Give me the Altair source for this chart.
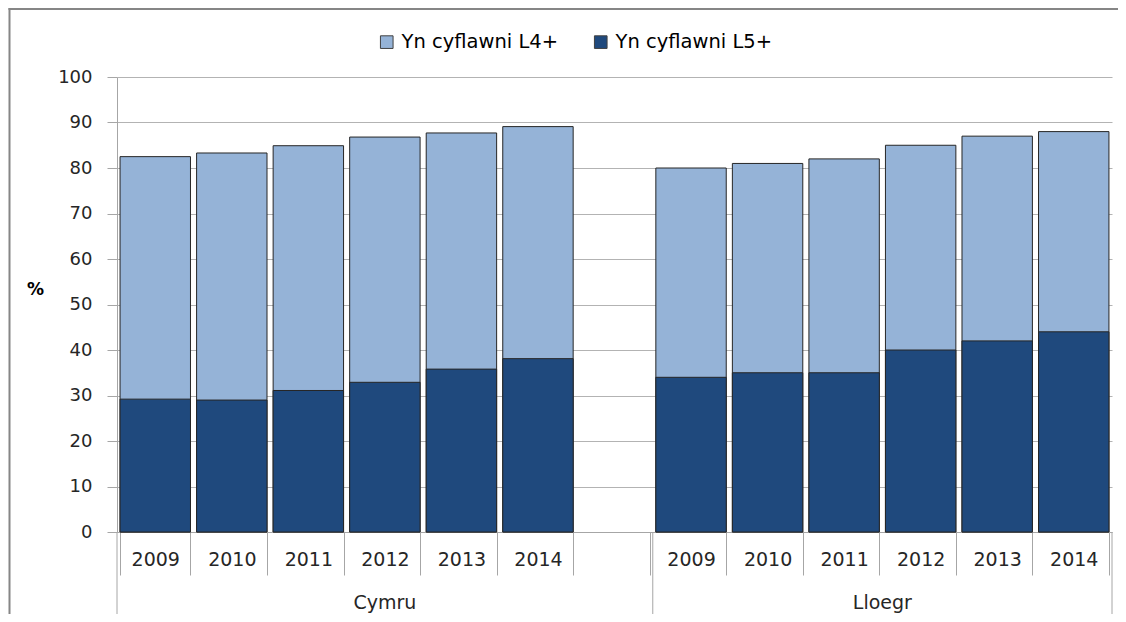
import altair as alt
import pandas as pd

years = ["2009", "2010", "2011", "2012", "2013", "2014"]
countries = ["Cymru", "Lloegr"]
series = ["Yn cyflawni L4+", "Yn cyflawni L5+"]
cymru_l4 = [82.5, 83.3, 84.9, 86.8, 87.7, 89.1]
cymru_l5 = [29.2, 29.0, 31.1, 32.9, 35.8, 38.1]
lloegr_l4 = [80.0, 81.0, 82.0, 85.0, 87.0, 88.0]
lloegr_l5 = [34.0, 35.0, 35.0, 40.0, 42.0, 44.0]
y_ticks = [0, 10, 20, 30, 40, 50, 60, 70, 80, 90, 100]

rows = []
for c, l4, l5 in [(countries[0], cymru_l4, cymru_l5), (countries[1], lloegr_l4, lloegr_l5)]:
    for yr, a, b in zip(years, l4, l5):
        rows.append({"cat": f"{c}|{yr}", "series": series[0], "value": a, "z": 0})
        rows.append({"cat": f"{c}|{yr}", "series": series[1], "value": b, "z": 1})
df = pd.DataFrame(rows)

domain = [f"{countries[0]}|{y}" for y in years] + [f"{countries[0]}| "] + [f"{countries[1]}|{y}" for y in years]

PI = 0.08
W, H = 995, 455
STEP = W / len(domain)
HALFGAP = STEP * PI / 2
FONT = "DejaVu Sans"
GRAY = "#a6a6a6"

xscale = alt.Scale(domain=domain, paddingInner=PI, paddingOuter=PI / 2)

bars = alt.Chart(df).mark_bar(stroke="#262626", strokeWidth=1).encode(
    x=alt.X("cat:N", scale=xscale, title=None,
            axis=alt.Axis(labelExpr="split(datum.value, '|')[1]", labelAngle=0,
                          tickBand="extent", tickSize=43, tickColor=GRAY, tickWidth=1,
                          domainColor=GRAY, domainWidth=1, labelFont=FONT, labelFontSize=19,
                          labelColor="#262626", labelPadding=-25, labelBaseline="top",
                          grid=False)),
    y=alt.Y("value:Q", stack=None, title="%",
            scale=alt.Scale(domain=[0, 100], nice=False),
            axis=alt.Axis(values=y_ticks, grid=True, gridColor="#b3b3b3", gridWidth=1,
                          domainColor=GRAY, tickColor=GRAY, tickSize=10,
                          labelFont=FONT, labelFontSize=18, labelColor="#262626",
                          labelPadding=15, titleAngle=0, titleFont=FONT, titleFontSize=17,
                          titleFontWeight="bold", titleColor="#000000",
                          titleX=-82, titleY=212, titleAlign="center", titleBaseline="middle")),
    color=alt.Color("series:N", title=None,
                    scale=alt.Scale(domain=series, range=["#95B3D7", "#1F497D"]),
                    legend=alt.Legend(orient="none", direction="horizontal",
                                      legendX=260, legendY=-45, symbolType="square",
                                      symbolSize=160, symbolStrokeColor="#404040",
                                      symbolStrokeWidth=1, labelFont=FONT,
                                      labelFontSize=19.5, labelColor="#000000",
                                      columnPadding=33, padding=0, labelOffset=5)),
    order=alt.Order("z:Q"),
)

grp1 = pd.DataFrame({"cat": [domain[3]], "label": [countries[0]]})
grp2 = pd.DataFrame({"cat": [domain[10]], "label": [countries[1]]})
txt1 = alt.Chart(grp1).mark_text(font=FONT, fontSize=19, color="#262626", baseline="middle").encode(
    x=alt.X("cat:N", scale=xscale), y=alt.value(H + 71), text="label:N")
txt2 = alt.Chart(grp2).mark_text(font=FONT, fontSize=19, color="#262626", baseline="middle",
                                 xOffset=-HALFGAP).encode(
    x=alt.X("cat:N", scale=xscale, bandPosition=0), y=alt.value(H + 71), text="label:N")

rl = pd.DataFrame({"cat": [domain[0], domain[7]]})
rr = pd.DataFrame({"cat": [domain[12]]})
rules1 = alt.Chart(rl).mark_rule(color=GRAY, strokeWidth=1, xOffset=-HALFGAP).encode(
    x=alt.X("cat:N", scale=xscale, bandPosition=0), y=alt.value(H), y2=alt.value(H + 85))
rules2 = alt.Chart(rr).mark_rule(color=GRAY, strokeWidth=1, xOffset=HALFGAP).encode(
    x=alt.X("cat:N", scale=xscale, bandPosition=1), y=alt.value(H), y2=alt.value(H + 85))

one = pd.DataFrame({"k": [0]})
frame_top = alt.Chart(one).mark_rule(color="#868686", strokeWidth=2).encode(
    x=alt.value(-108.5), x2=alt.value(W + 100), y=alt.value(-68))
frame_left = alt.Chart(one).mark_rule(color="#868686", strokeWidth=2).encode(
    x=alt.value(-107.5), y=alt.value(-69), y2=alt.value(H + 200))

chart = alt.layer(frame_top, frame_left, bars, rules1, rules2, txt1, txt2).resolve_scale(x="shared").properties(
    width=W, height=H,
    padding={"left": 109, "top": 69, "right": 6, "bottom": 82},
    autosize=alt.AutoSizeParams(type="none"),
    background="white",
).configure_view(strokeWidth=0)

chart.save("out.html", embed_options={"renderer": "svg", "actions": False})
